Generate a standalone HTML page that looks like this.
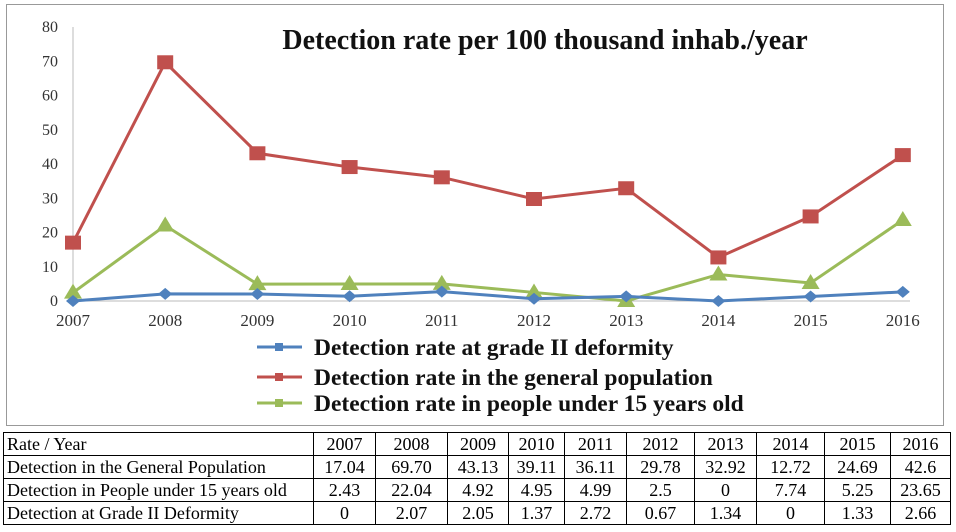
<!DOCTYPE html>
<html><head><meta charset="utf-8"><style>
body{margin:0;width:956px;height:532px;background:#fff;overflow:hidden;font-family:"Liberation Serif",serif;}
#frame{position:absolute;left:6px;top:4px;width:938px;height:422px;border:1.5px solid #999;box-sizing:border-box;}
svg{position:absolute;left:0;top:0;}
table{position:absolute;left:3px;top:432px;border-collapse:collapse;font-size:18px;table-layout:fixed;width:947px;}
td{border:1px solid #000;height:22px;padding:0 3px;text-align:center;line-height:21px;white-space:nowrap;overflow:hidden;}
td:first-child{text-align:left;}
</style></head><body>
<div id="frame"></div>
<svg id="chart" width="956" height="430"></svg>
<table>
<colgroup><col style="width:310px"><col style="width:62px"><col style="width:72px"><col style="width:61px"><col style="width:56px"><col style="width:62px"><col style="width:68px"><col style="width:62px"><col style="width:68px"><col style="width:66px"><col style="width:60px"></colgroup>
<tr><td>Rate / Year</td><td>2007</td><td>2008</td><td>2009</td><td>2010</td><td>2011</td><td>2012</td><td>2013</td><td>2014</td><td>2015</td><td>2016</td></tr>
<tr><td>Detection in the General Population</td><td>17.04</td><td>69.70</td><td>43.13</td><td>39.11</td><td>36.11</td><td>29.78</td><td>32.92</td><td>12.72</td><td>24.69</td><td>42.6</td></tr>
<tr><td>Detection in People under 15 years old</td><td>2.43</td><td>22.04</td><td>4.92</td><td>4.95</td><td>4.99</td><td>2.5</td><td>0</td><td>7.74</td><td>5.25</td><td>23.65</td></tr>
<tr><td>Detection at Grade II Deformity</td><td>0</td><td>2.07</td><td>2.05</td><td>1.37</td><td>2.72</td><td>0.67</td><td>1.34</td><td>0</td><td>1.33</td><td>2.66</td></tr>
</table>
<script>
const years=["2007","2008","2009","2010","2011","2012","2013","2014","2015","2016"];
const yTicks=[0,10,20,30,40,50,60,70,80];
const general=[17.04,69.70,43.13,39.11,36.11,29.78,32.92,12.72,24.69,42.6];
const under15=[2.43,22.04,4.92,4.95,4.99,2.5,0,7.74,5.25,23.65];
const grade2=[0,2.07,2.05,1.37,2.72,0.67,1.34,0,1.33,2.66];
const NS="http://www.w3.org/2000/svg";
const svg=document.getElementById('chart');
const X=i=>73+i*92.2;
const Y=v=>301-v*(274/80);
function mk(t,a,txt){const e=document.createElementNS(NS,t);for(const k in a)e.setAttribute(k,a[k]);if(txt!=null)e.textContent=txt;svg.appendChild(e);return e;}
let e;
e=mk('line',{x1:73,y1:Y(80),x2:73,y2:Y(0),stroke:'#bbb','stroke-width':1});


e=mk('line',{x1:73,y1:Y(0),x2:910,y2:Y(0),stroke:'#bbb','stroke-width':1});


yTicks.forEach(v=>{
 e=mk('text',{x:58,y:Y(v)+5,'text-anchor':'end','font-size':16,fill:'#333','font-family':'Liberation Serif'},v);
 
 
});
years.forEach((y,i)=>{
 e=mk('text',{x:X(i),y:326,'text-anchor':'middle','font-size':17,fill:'#333','font-family':'Liberation Serif'},y);
 
 
});
e=mk('text',{x:545,y:49,'text-anchor':'middle','font-size':28,'font-weight':'bold',fill:'#111','font-family':'Liberation Serif'},'Detection rate per 100 thousand inhab./year');


function series(data,color,shape,name){
 e=mk('polyline',{points:data.map((v,i)=>X(i)+','+Y(v)).join(' '),fill:'none',stroke:color,'stroke-width':3});
 
 
 data.forEach((v,i)=>{
  const x=X(i),y=Y(v);
  if(shape==='sq')e=mk('rect',{x:x-8,y:y-7,width:16,height:14,fill:color});
  else if(shape==='tri')e=mk('polygon',{points:`${x},${y-9} ${x-9},${y+6} ${x+9},${y+6}`,fill:color});
  else e=mk('polygon',{points:`${x},${y-6} ${x+7},${y} ${x},${y+6} ${x-7},${y}`,fill:color});
  
  
 });
}
series(general,'#c0504d','sq','general');
series(under15,'#9bbb59','tri','under15');
series(grade2,'#4f81bd','dia','grade2');
const leg=[['Detection rate at grade II deformity','#4f81bd',354],['Detection rate in the general population','#c0504d',384],['Detection rate in people under 15 years old','#9bbb59',410]];
leg.forEach(l=>{
 e=mk('line',{x1:257,y1:l[2]-7,x2:302,y2:l[2]-7,stroke:l[1],'stroke-width':3});
 
 
 e=mk('rect',{x:275,y:l[2]-11,width:8,height:8,fill:l[1]});
 
 
 e=mk('text',{x:314,y:l[2]+1,'font-size':23.5,'font-weight':'bold',fill:'#111','font-family':'Liberation Serif'},l[0]);
 
 
});
</script>
</body></html>
